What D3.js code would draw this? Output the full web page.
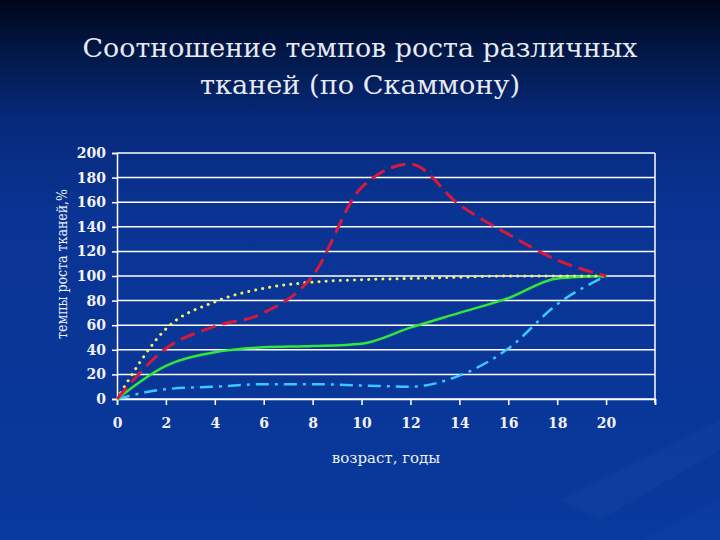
<!DOCTYPE html>
<html lang="ru">
<head>
    <meta charset="UTF-8">
    <script src="https://d3js.org/d3.v7.min.js"></script>
    <title>Скаммон</title>
    <style>
        body { margin: 0; background: #0a3597; }
        svg { display: block; }
        .serif { font-family: "DejaVu Serif", "Liberation Serif", "Times New Roman", serif; }
    </style>
</head>
<body>
    <svg width="720" height="540" id="chart"></svg>
    <script>
        // data
        const ages = [0, 2, 4, 6, 8, 10, 12, 14, 16, 18, 20];
        const redVals = [0, 41, 59, 70, 100, 172, 191, 158, 134, 113, 100];
        const yellowVals = [0, 57, 79, 90, 95, 97, 98, 99, 100, 100, 100];
        const greenVals = [0, 27, 38, 42, 43, 45, 58, 70, 82, 98, 100];
        const cyanVals = [0, 8, 10, 12, 12, 11, 10, 19, 41, 77, 100];
        const xTicks = [0, 2, 4, 6, 8, 10, 12, 14, 16, 18, 20];
        const yTicks = [0, 20, 40, 60, 80, 100, 120, 140, 160, 180, 200];

        const titleLines = ["Соотношение темпов роста различных", "тканей (по Скаммону)"];
        const xTitle = "возраст, годы";
        const yTitle = "темпы роста тканей,%";

        let svg = d3.select("#chart");

        // background gradient
        let defs = svg.append("defs");
        let grad = defs.append("linearGradient")
            .attr("id", "bg")
            .attr("x1", 0).attr("x2", 0).attr("y1", 0).attr("y2", 1);
        grad.append("stop").attr("offset", "0").attr("stop-color", "#00061a");
        grad.append("stop").attr("offset", "0.1").attr("stop-color", "#021848");
        grad.append("stop").attr("offset", "0.22").attr("stop-color", "#06297a");
        grad.append("stop").attr("offset", "0.4").attr("stop-color", "#0a3494");
        grad.append("stop").attr("offset", "1").attr("stop-color", "#08399c");

        svg.append("rect")
            .attr("width", 720).attr("height", 540)
            .attr("fill", "url(#bg)");

        // faint streaks bottom right
        svg.append("path")
            .attr("d", "M560,500 L720,420 L720,450 L600,520 Z")
            .attr("fill", "#2a58b8").attr("opacity", 0.12);
        svg.append("path")
            .attr("d", "M640,540 L720,500 L720,540 Z")
            .attr("fill", "#2a58b8").attr("opacity", 0.1);

        // title
        svg.append("text")
            .attr("class", "serif")
            .attr("x", 360).attr("y", 57)
            .attr("text-anchor", "middle")
            .attr("font-size", 26)
            .attr("fill", "#e8eaf2")
            .attr("textLength", 555)
            .attr("lengthAdjust", "spacingAndGlyphs")
            .text(titleLines[0]);
        svg.append("text")
            .attr("class", "serif")
            .attr("x", 360).attr("y", 94)
            .attr("text-anchor", "middle")
            .attr("font-size", 26)
            .attr("fill", "#e8eaf2")
            .attr("textLength", 320)
            .attr("lengthAdjust", "spacingAndGlyphs")
            .text(titleLines[1]);

        // scales
        let x = d3.scaleLinear().domain([0, 22]).range([117, 655]);
        let y = d3.scaleLinear().domain([0, 200]).range([399, 153]);

        // grid lines
        svg.selectAll(".grid")
            .data(yTicks)
            .enter().append("line")
            .attr("x1", x(0)).attr("x2", x(22))
            .attr("y1", d => y(d)).attr("y2", d => y(d))
            .attr("style", "stroke: #ffffff; stroke-width: 1.5");

        // right border
        svg.append("line")
            .attr("x1", x(22)).attr("x2", x(22))
            .attr("y1", y(200)).attr("y2", y(0) + 4)
            .attr("style", "stroke: #ffffff; stroke-width: 1.5");

        // axes
        let yAxis = svg.append("g")
            .attr("transform", "translate(" + x(0) + ",0)")
            .call(d3.axisLeft(y).tickValues(yTicks).tickSize(5).tickPadding(6));
        let xAxis = svg.append("g")
            .attr("transform", "translate(0," + y(0) + ")")
            .call(d3.axisBottom(x).tickValues(xTicks.concat([22])).tickSize(6).tickPadding(13)
                .tickFormat(d => d > 20 ? "" : d));

        [yAxis, xAxis].forEach(a => {
            a.attr("font-family", null);
            a.selectAll("path, line").attr("stroke", "#ffffff").attr("stroke-width", 1.5);
            a.selectAll("text")
                .attr("class", "serif")
                .attr("fill", "#f2f2f6")
                .attr("font-size", 14)
                .attr("font-weight", "bold");
        });

        // axis titles
        svg.append("text")
            .attr("class", "serif")
            .attr("x", 386).attr("y", 463)
            .attr("text-anchor", "middle")
            .attr("font-size", 15)
            .attr("fill", "#eef0f6")
            .text(xTitle);
        svg.append("text")
            .attr("class", "serif")
            .attr("transform", "translate(67,264) rotate(-90)")
            .attr("text-anchor", "middle")
            .attr("font-size", 14)
            .attr("fill", "#eef0f6")
            .attr("textLength", 150)
            .attr("lengthAdjust", "spacingAndGlyphs")
            .text(yTitle);

        // series lines
        const series = [
            { vals: cyanVals, color: "#3cc8ff", width: 2.5, dash: "13,6,3,6", cap: "butt" },
            { vals: greenVals, color: "#2ee83a", width: 2.5, dash: null, cap: "round" },
            { vals: yellowVals, color: "#f4f060", width: 3, dash: "0.1,7", cap: "round" },
            { vals: redVals, color: "#d8183c", width: 3, dash: "15,7", cap: "butt" }
        ];

        let line = d3.line()
            .x((d, i) => x(ages[i]))
            .y(d => y(d))
            .curve(d3.curveMonotoneX);

        series.forEach(s => {
            svg.append("path")
                .attr("d", line(s.vals))
                .attr("fill", "none")
                .attr("stroke", s.color)
                .attr("stroke-width", s.width)
                .attr("stroke-linecap", s.cap)
                .attr("stroke-dasharray", s.dash);
        });
    </script>
</body>
</html>
